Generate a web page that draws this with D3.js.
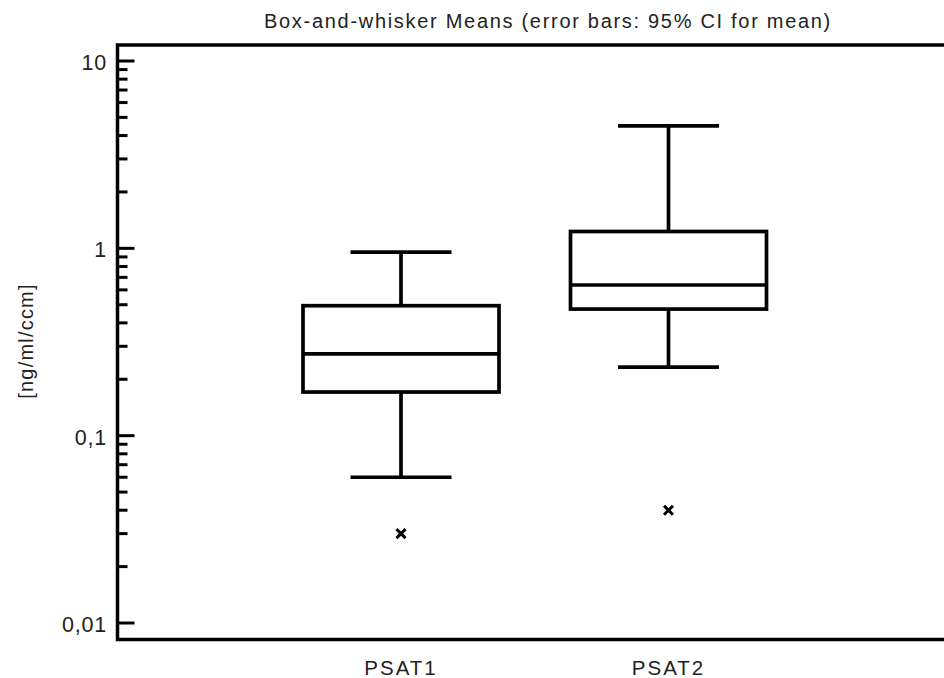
<!DOCTYPE html>
<html><head><meta charset="utf-8">
<script src="https://cdn.jsdelivr.net/npm/d3@7"></script>
<style>body{margin:0;background:#fff}svg{display:block}text{font-family:"Liberation Sans",Arial,sans-serif;fill:#222}</style>
</head><body>
<script>
const categories = ["PSAT1", "PSAT2"];
const whiskerLow = [0.060, 0.232];
const q1 = [0.171, 0.474];
const median = [0.273, 0.637];
const q3 = [0.494, 1.23];
const whiskerHigh = [0.955, 4.50];
const outliers = [0.030, 0.040];
const yTickValues = [0.01, 0.1, 1, 10];
const yTickLabels = ["0,01", "0,1", "1", "10"];
const title = "Box-and-whisker Means (error bars: 95% CI for mean)";
const yLabel = "[ng/ml/ccm]";

const W = 944, H = 678;
const svg = d3.select("body").append("svg").attr("width", W).attr("height", H);

const pLeft = 117.5, pTop = 45, pBottom = 639.5, pRight = 970;
// log scale: 10 at y=61, 0.01 at y=623
const y = d3.scaleLog().domain([0.01, 10]).range([623, 61]);
const x = d3.scalePoint().domain(categories).range([401, 668.5]);
const boxW = 196, capW = 101;

// title
svg.append("text").attr("x", 548).attr("y", 28).attr("text-anchor", "middle")
  .attr("font-size", 20).attr("letter-spacing", 1.7).text(title);

// frame
svg.append("path").attr("fill", "none").attr("stroke", "#000").attr("stroke-width", 3.5)
  .attr("d", `M${pRight},${pTop}H${pLeft}V${pBottom}H${pRight}`);

// y ticks
const minor = [];
for (let d = -2; d < 1; d++) for (let k = 2; k <= 9; k++) minor.push(k * Math.pow(10, d));
const tg = svg.append("g");
tg.selectAll("line.minor").data(minor).join("line").attr("class", "minor")
  .attr("x1", pLeft).attr("x2", pLeft + 10).attr("y1", d => y(d)).attr("y2", d => y(d))
  .attr("stroke", "#000").attr("stroke-width", 3);
tg.selectAll("line.major").data(yTickValues).join("line").attr("class", "major")
  .attr("x1", pLeft).attr("x2", pLeft + 17).attr("y1", d => y(d)).attr("y2", d => y(d))
  .attr("stroke", "#000").attr("stroke-width", 3);
tg.selectAll("text").data(yTickValues).join("text")
  .attr("x", 107).attr("y", d => y(d) + 9).attr("text-anchor", "end")
  .attr("font-size", 21.5).attr("letter-spacing", 0.8).text((d, i) => yTickLabels[i]);

// y label
svg.append("text").attr("transform", "translate(33,341) rotate(-90)")
  .attr("text-anchor", "middle").attr("font-size", 20).attr("letter-spacing", 1.2).text(yLabel);

// x labels
svg.selectAll("text.xl").data(categories).join("text").attr("class", "xl")
  .attr("x", d => x(d)).attr("y", 675).attr("text-anchor", "middle")
  .attr("font-size", 20.5).attr("letter-spacing", 2).text(d => d);

// boxes
const g = svg.append("g").attr("stroke", "#000").attr("stroke-width", 3.7).attr("fill", "none");
categories.forEach((c, i) => {
  const cx = x(c);
  g.append("line").attr("x1", cx).attr("x2", cx).attr("y1", y(whiskerHigh[i])).attr("y2", y(q3[i]));
  g.append("line").attr("x1", cx).attr("x2", cx).attr("y1", y(q1[i])).attr("y2", y(whiskerLow[i]));
  g.append("line").attr("x1", cx - capW / 2).attr("x2", cx + capW / 2).attr("y1", y(whiskerHigh[i])).attr("y2", y(whiskerHigh[i]));
  g.append("line").attr("x1", cx - capW / 2).attr("x2", cx + capW / 2).attr("y1", y(whiskerLow[i])).attr("y2", y(whiskerLow[i]));
  g.append("rect").attr("x", cx - boxW / 2).attr("width", boxW)
    .attr("y", y(q3[i])).attr("height", y(q1[i]) - y(q3[i]));
  g.append("line").attr("x1", cx - boxW / 2).attr("x2", cx + boxW / 2).attr("y1", y(median[i])).attr("y2", y(median[i]));
  const oy = y(outliers[i]), s = 4.5;
  g.append("path").attr("stroke-width", 3)
    .attr("d", `M${cx - s},${oy - s}L${cx + s},${oy + s}M${cx - s},${oy + s}L${cx + s},${oy - s}`);
});
</script>
</body></html>
